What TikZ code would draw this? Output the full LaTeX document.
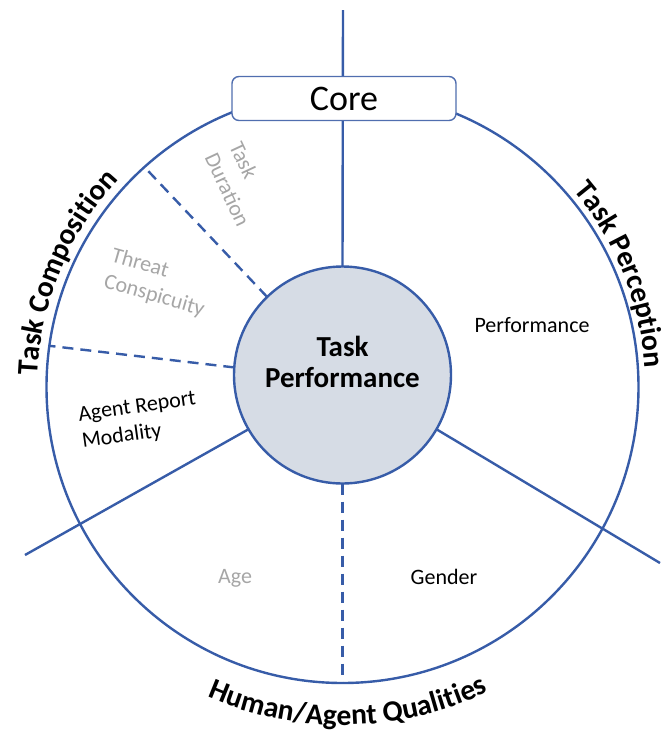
\documentclass[tikz,border=0pt]{standalone}
\usepackage{fontspec}
\setmainfont{Carlito}
\usetikzlibrary{decorations.text,calc}
\definecolor{lineblue}{RGB}{55,92,168}
\definecolor{boxblue}{RGB}{80,110,175}
\definecolor{innerfill}{RGB}{214,220,229}
\definecolor{txtgray}{RGB}{166,166,166}
\newcommand\tpbold{\bfseries\fontsize{29.5}{29.5}\selectfont}
\begin{document}
\begin{tikzpicture}[x=1pt,y=1pt,
  mainline/.style={draw=lineblue, line width=2.4pt},
  dashline/.style={draw=lineblue, line width=2.4pt, dash pattern=on 11pt off 7pt},
  lbl/.style={font=\fontsize{22}{27}\selectfont, align=left, inner sep=0pt},
  graylbl/.style={lbl, text=txtgray},
  arclabel/.style={decorate, decoration={text along path, text align=center, text={|\tpbold|#1}}}
]
\useasboundingbox (0,0) rectangle (666,-732);
\coordinate (oc) at (342.5,-387);
\node[circle, draw=lineblue, line width=2.4pt, minimum size=592pt, inner sep=0pt, outer sep=0pt] (outer) at (oc) {};
\node[circle, draw=lineblue, fill=innerfill, line width=2.4pt, minimum size=217pt, inner sep=0pt, outer sep=0pt] (inner) at (342.5,-375) {};
\node[font=\bfseries\fontsize{29}{31}\selectfont, align=center, inner sep=0pt] (tp) at (342.5,-362) {Task\\Performance};
\coordinate (topend) at (343,-10);
\coordinate (llend) at (25,-555);
\coordinate (lrend) at (660,-563);
\draw[mainline] (topend) -- (inner.north);
\draw[mainline] (inner.210) -- (llend);
\draw[mainline] (inner.330) -- (lrend);
\draw[dashline] (inner.134) -- (outer.132);
\draw[dashline] (inner.176) -- (outer.172);
\draw[dashline] (inner.south) -- (outer.south);
\node[draw=boxblue, line width=1.4pt, fill=white, rounded corners=7pt, minimum width=224pt, minimum height=44pt,
      inner sep=0pt, font=\fontsize{36}{36}\selectfont] (core) at (344,-98.5) {Core};
% segment labels
\node[graylbl, rotate=-65] (dur) at (240,-184) {Task\\Duration};
\node[graylbl, rotate=-16] (threat) at (158,-283) {Threat\\Conspicuity};
\node[lbl, rotate=8] (agent) at (139,-421) {Agent Report\\Modality};
\node[lbl] (perf) at (532,-325) {Performance};
\node[graylbl] (age) at (235,-578) {Age};
\node[lbl] (gender) at (444,-577) {Gender};
% curved category labels
\path[arclabel={Task Composition}] ($(oc)+(179:305)$) arc[start angle=179, end angle=136, radius=305];
\path[arclabel={Task Perception}] ($(oc)+(41:303)$) arc[start angle=41, end angle=3, radius=303];
\path[arclabel={Human/Agent Qualities}] ($(oc)+(244:338)$) arc[start angle=244, end angle=298, radius=338];
\end{tikzpicture}
\end{document}
